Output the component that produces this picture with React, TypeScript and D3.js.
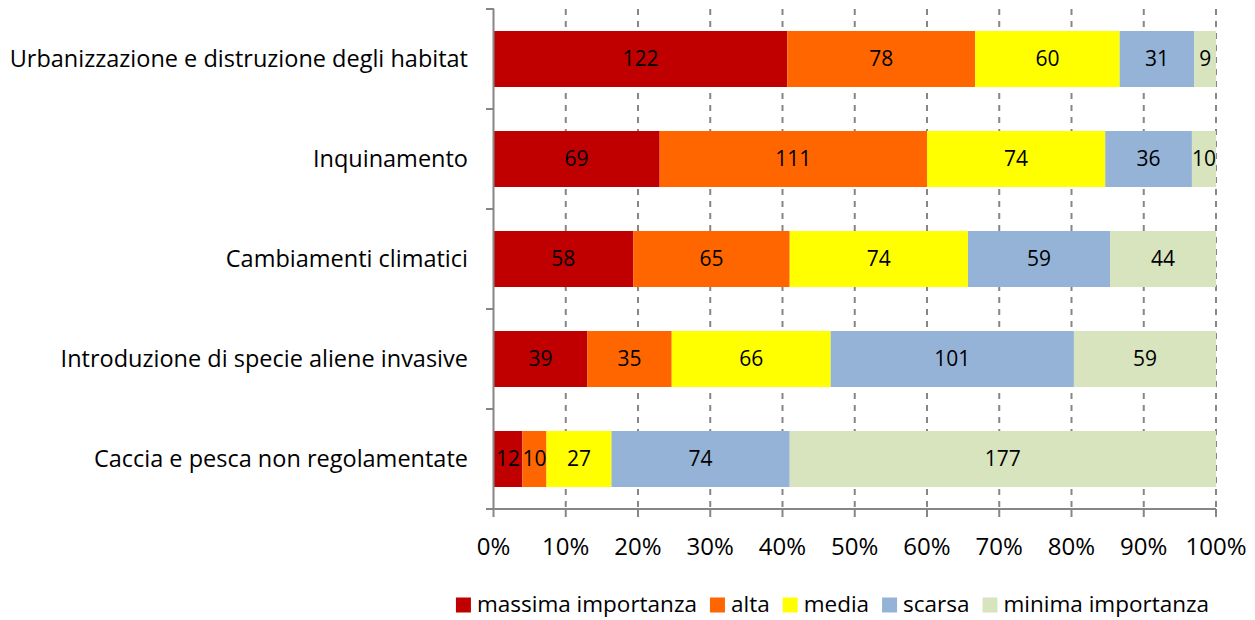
import React, { useEffect, useRef } from "react";
import * as d3 from "d3";

const categories = [
  "Urbanizzazione e distruzione degli habitat",
  "Inquinamento",
  "Cambiamenti climatici",
  "Introduzione di specie aliene invasive",
  "Caccia e pesca non regolamentate",
];

const seriesNames = ["massima importanza", "alta", "media", "scarsa", "minima importanza"];
const seriesColors = ["#C00000", "#FF6600", "#FFFF00", "#95B3D7", "#D7E4BD"];

const massima = [122, 69, 58, 39, 12];
const alta = [78, 111, 65, 35, 10];
const media = [60, 74, 74, 66, 27];
const scarsa = [31, 36, 59, 101, 74];
const minima = [9, 10, 44, 59, 177];

const xTicks = [0, 0.1, 0.2, 0.3, 0.4, 0.5, 0.6, 0.7, 0.8, 0.9, 1];

const W = 1255;
const H = 620;
const FONT = "'Open Sans', Lato, sans-serif";

export default function App() {
  const ref = useRef<SVGSVGElement>(null);

  useEffect(() => {
    const svg = d3.select(ref.current);
    svg.selectAll("*").remove();

    const series = [massima, alta, media, scarsa, minima];
    const rows = categories.map((c, i) => {
      const row: any = { cat: c };
      seriesNames.forEach((s, j) => (row[s] = series[j][i]));
      return row;
    });

    const stacked = d3.stack<any>().keys(seriesNames).offset(d3.stackOffsetExpand)(rows);

    const x = d3.scaleLinear().domain([0, 1]).range([493.5, 1216]);
    const y = d3
      .scaleBand<string>()
      .domain(categories)
      .range([9, 509])
      .paddingInner(0.44)
      .paddingOuter(0.22);

    const axisColor = "#868686";

    // vertical dashed gridlines
    svg
      .append("g")
      .selectAll("line")
      .data(xTicks.slice(1))
      .join("line")
      .attr("x1", (d) => x(d))
      .attr("x2", (d) => x(d))
      .attr("y1", 9)
      .attr("y2", 509)
      .attr("stroke", axisColor)
      .attr("stroke-width", 2)
      .attr("stroke-dasharray", "6,6");

    // bars
    const g = svg.append("g");
    stacked.forEach((layer, j) => {
      g.append("g")
        .attr("fill", seriesColors[j])
        .selectAll("rect")
        .data(layer)
        .join("rect")
        .attr("x", (d) => x(d[0]))
        .attr("y", (d) => y(d.data.cat)!)
        .attr("width", (d) => x(d[1]) - x(d[0]))
        .attr("height", y.bandwidth());
    });

    // value labels
    stacked.forEach((layer, j) => {
      g.append("g")
        .selectAll("text")
        .data(layer)
        .join("text")
        .attr("x", (d) => (x(d[0]) + x(d[1])) / 2)
        .attr("y", (d) => y(d.data.cat)! + y.bandwidth() / 2)
        .attr("dy", "0.35em")
        .attr("text-anchor", "middle")
        .attr("font-family", FONT)
        .attr("font-size", 21)
        .attr("fill", "#000")
        .text((_, i) => series[j][i]);
    });

    // left axis
    const yTickPos = d3.range(6).map((i) => 9 + i * 100);
    svg
      .append("line")
      .attr("x1", 493.5)
      .attr("x2", 493.5)
      .attr("y1", 9)
      .attr("y2", 509)
      .attr("stroke", axisColor)
      .attr("stroke-width", 2);
    svg
      .append("g")
      .selectAll("line")
      .data(yTickPos)
      .join("line")
      .attr("x1", 486)
      .attr("x2", 494)
      .attr("y1", (d) => d)
      .attr("y2", (d) => d)
      .attr("stroke", axisColor)
      .attr("stroke-width", 2);

    // bottom axis
    svg
      .append("line")
      .attr("x1", 486)
      .attr("x2", 1216)
      .attr("y1", 509)
      .attr("y2", 509)
      .attr("stroke", axisColor)
      .attr("stroke-width", 2);
    svg
      .append("g")
      .selectAll("line")
      .data(xTicks)
      .join("line")
      .attr("x1", (d) => x(d))
      .attr("x2", (d) => x(d))
      .attr("y1", 509)
      .attr("y2", 517)
      .attr("stroke", axisColor)
      .attr("stroke-width", 2);

    // x tick labels
    svg
      .append("g")
      .selectAll("text")
      .data(xTicks)
      .join("text")
      .attr("x", (d) => x(d))
      .attr("y", 547)
      .attr("dy", "0.35em")
      .attr("text-anchor", "middle")
      .attr("font-family", FONT)
      .attr("font-size", 24)
      .attr("fill", "#000")
      .text((d) => d3.format(".0%")(d));

    // category labels
    svg
      .append("g")
      .selectAll("text")
      .data(categories)
      .join("text")
      .attr("x", 468)
      .attr("y", (d) => y(d)! + y.bandwidth() / 2)
      .attr("dy", "0.35em")
      .attr("text-anchor", "end")
      .attr("font-family", FONT)
      .attr("font-size", 23.5)
      .attr("fill", "#000")
      .text((d) => d);

    // legend
    const leg = svg.append("g");
    const items = seriesNames.map((name, i) => {
      const item = leg.append("g");
      item
        .append("rect")
        .attr("x", 0)
        .attr("y", -6.5)
        .attr("width", 15)
        .attr("height", 15)
        .attr("fill", seriesColors[i]);
      const t = item
        .append("text")
        .attr("x", 21)
        .attr("dy", "0.35em")
        .attr("font-family", FONT)
        .attr("font-size", 22.5)
        .attr("fill", "#000")
        .text(name);
      const w = (t.node() as SVGTextElement).getComputedTextLength();
      return { item, width: 21 + w };
    });
    const gap = 13;
    const total = d3.sum(items, (d) => d.width) + gap * (items.length - 1);
    let cx = 832.5 - total / 2;
    items.forEach(({ item, width }) => {
      item.attr("transform", `translate(${cx},604)`);
      cx += width + gap;
    });
  }, []);

  return (
    <svg
      ref={ref}
      width={W}
      height={H}
      style={{ position: "absolute", left: 0, top: 0, background: "#fff" }}
    />
  );
}
